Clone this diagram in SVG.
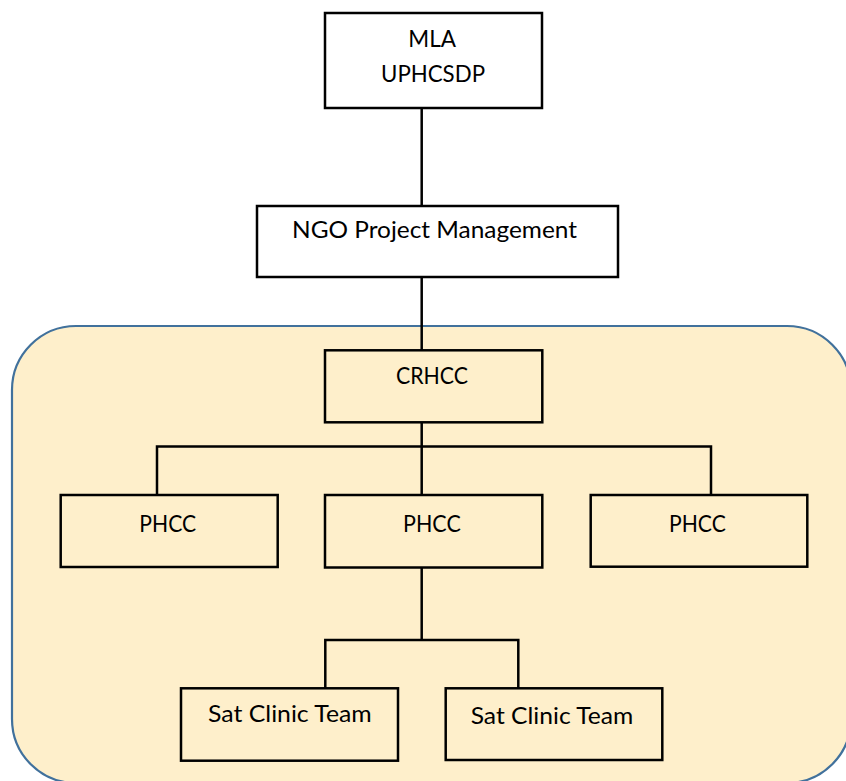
<svg xmlns="http://www.w3.org/2000/svg" width="846" height="781" viewBox="0 0 846 781">
<style>
.box{fill:none;stroke:#000;stroke-width:2.5}
.wbox{fill:#fff;stroke:#000;stroke-width:2.5}
.lbl{font-family:"Lato","Liberation Sans",sans-serif;font-size:23px;fill:#000;text-anchor:middle}
.con{fill:none;stroke:#000;stroke-width:2.5}
</style>
<rect width="846" height="781" fill="#fff"/>
<g id="region">
<rect x="12" y="326" width="839" height="457" rx="64" ry="64" fill="#FEEFCB" stroke="#41719C" stroke-width="2.2"/>
</g>
<g id="connectors">
<path class="con" d="M421.7 108V206M421.7 277V350.3M421.7 422.3V495M157 495V446.5H711V495M421.7 567.5V640M325.3 688.3V640H518.3V688.3"/>
</g>
<g id="mla">
<rect class="wbox" x="325" y="13" width="217" height="95"/>
<text class="lbl" x="432.2" y="47" textLength="47.7" lengthAdjust="spacingAndGlyphs">MLA</text>
<text class="lbl" x="433" y="81.5" textLength="104" lengthAdjust="spacingAndGlyphs">UPHCSDP</text>
</g>
<g id="ngo">
<rect class="wbox" x="257" y="206" width="361" height="71"/>
<text class="lbl" x="434.5" y="237.5" textLength="285" lengthAdjust="spacingAndGlyphs">NGO Project Management</text>
</g>
<g id="crhcc">
<rect class="box" x="325" y="350.3" width="217.3" height="72"/>
<text class="lbl" x="432" y="384" textLength="72" lengthAdjust="spacingAndGlyphs">CRHCC</text>
</g>
<g id="phcc1">
<rect class="box" x="60.7" y="495" width="217" height="72"/>
<text class="lbl" x="167.7" y="531.7" textLength="56.7" lengthAdjust="spacingAndGlyphs">PHCC</text>
</g>
<g id="phcc2">
<rect class="box" x="325" y="495" width="217.3" height="72.5"/>
<text class="lbl" x="431.9" y="532" textLength="57.7" lengthAdjust="spacingAndGlyphs">PHCC</text>
</g>
<g id="phcc3">
<rect class="box" x="590.7" y="495" width="216.6" height="71.7"/>
<text class="lbl" x="697.4" y="531.7" textLength="56.7" lengthAdjust="spacingAndGlyphs">PHCC</text>
</g>
<g id="sat1">
<rect class="box" x="181" y="688.3" width="217" height="72.4"/>
<text class="lbl" x="289.9" y="721.7" textLength="163.7" lengthAdjust="spacingAndGlyphs">Sat Clinic Team</text>
</g>
<g id="sat2">
<rect class="box" x="445.7" y="688.3" width="216.6" height="71.7"/>
<text class="lbl" x="552" y="724.3" textLength="162.6" lengthAdjust="spacingAndGlyphs">Sat Clinic Team</text>
</g>
</svg>
